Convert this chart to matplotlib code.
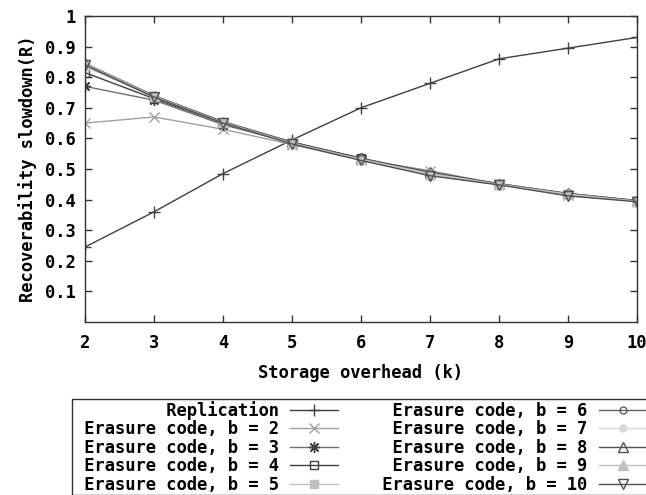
import matplotlib
matplotlib.use("Agg")
import matplotlib.pyplot as plt
from matplotlib.ticker import FixedLocator, FixedFormatter

FS = 12.3
plt.rcParams['font.family'] = ['DejaVu Sans Mono']
plt.rcParams['font.weight'] = 'bold'
plt.rcParams['font.size'] = FS

x = [2, 3, 4, 5, 6, 7, 8, 9, 10]
replication = [0.245, 0.36, 0.485, 0.595, 0.70, 0.78, 0.86, 0.895, 0.93]
b2 = [0.65, 0.67, 0.630, 0.580, 0.530, 0.495, 0.450, 0.415, 0.395]
b3 = [0.77, 0.725, 0.645, 0.585, 0.535, 0.480, 0.450, 0.415, 0.395]
b4 = [0.815, 0.73, 0.650, 0.585, 0.535, 0.480, 0.450, 0.418, 0.395]
b5 = [0.835, 0.735, 0.650, 0.585, 0.530, 0.480, 0.450, 0.418, 0.395]
b6 = [0.84, 0.738, 0.652, 0.588, 0.535, 0.485, 0.452, 0.420, 0.397]
b7 = [0.842, 0.74, 0.653, 0.585, 0.530, 0.483, 0.450, 0.418, 0.395]
b8 = [0.845, 0.74, 0.655, 0.588, 0.535, 0.490, 0.452, 0.420, 0.397]
b9 = [0.843, 0.738, 0.652, 0.585, 0.532, 0.485, 0.450, 0.418, 0.395]
b10 = [0.84, 0.735, 0.650, 0.582, 0.528, 0.478, 0.448, 0.412, 0.393]

labels = ["Replication", "Erasure code, b = 2", "Erasure code, b = 3",
          "Erasure code, b = 4", "Erasure code, b = 5", "Erasure code, b = 6",
          "Erasure code, b = 7", "Erasure code, b = 8", "Erasure code, b = 9",
          "Erasure code, b = 10"]
series = [replication, b2, b3, b4, b5, b6, b7, b8, b9, b10]

yticks = [0.1, 0.2, 0.3, 0.4, 0.5, 0.6, 0.7, 0.8, 0.9, 1.0]
yticklabels = ["0.1", "0.2", "0.3", "0.4", "0.5", "0.6", "0.7", "0.8", "0.9", "1"]
xticks = x
xticklabels = [str(v) for v in x]

styles = [
    dict(color='#404040', marker='+', ms=9, mfc='#404040'),
    dict(color='#a0a0a0', marker='x', ms=7, mfc='#a0a0a0'),
    dict(color='#707070', marker=(8, 2, 0), ms=8, mfc='#404040', mec='#404040'),
    dict(color='#404040', marker='s', ms=6, mfc='none'),
    dict(color='#c0c0c0', marker='s', ms=6, mfc='#c0c0c0'),
    dict(color='#606060', marker='o', ms=5, mfc='none'),
    dict(color='#d8d8d8', marker='o', ms=5, mfc='#d8d8d8'),
    dict(color='#505050', marker='^', ms=7, mfc='none'),
    dict(color='#c0c0c0', marker='^', ms=7, mfc='#c0c0c0'),
    dict(color='#505050', marker='v', ms=7, mfc='none'),
]

fig = plt.figure(figsize=(6.46, 4.95), dpi=100)
ax = fig.add_axes([85/646, 1-322/495, (637-85)/646, (322-16)/495])

handles = []
for lab, ys, st in zip(labels, series, styles):
    h, = ax.plot(x, ys, lw=1.0, mew=1.0, label=lab, **st)
    handles.append(h)

ax.set_xlim(2, 10)
ax.set_ylim(0, 1)
ax.xaxis.set_major_locator(FixedLocator(xticks))
ax.xaxis.set_major_formatter(FixedFormatter(xticklabels))
ax.yaxis.set_major_locator(FixedLocator(yticks))
ax.yaxis.set_major_formatter(FixedFormatter(yticklabels))
ax.tick_params(direction='in', length=5, width=1, color='#333333',
               top=True, right=True, labelsize=FS, pad=6.5)
ax.tick_params(axis='x', pad=8.5)
for s in ax.spines.values():
    s.set_color('#333333')
    s.set_linewidth(1.0)

ax.set_xlabel("Storage overhead (k)", fontsize=FS, fontweight='bold', labelpad=9)
ax.set_ylabel("Recoverability slowdown(R)", fontsize=FS, fontweight='bold', labelpad=6)

# pad labels so monospace text is right-justified within each column
left_w = max(len(l) for l in labels[:5])
right_w = max(len(l) for l in labels[5:])
padded = ([" " + l.rjust(left_w) for l in labels[:5]] +
          [" " + l.rjust(right_w) for l in labels[5:]])

leg = fig.legend(handles, padded, ncol=2, loc='upper left',
                 bbox_to_anchor=(72/646, 1-399/495), bbox_transform=fig.transFigure,
                 markerfirst=False, fancybox=False, framealpha=1,
                 edgecolor='#333333', fontsize=FS, labelspacing=0.03,
                 handlelength=2.81, handletextpad=0.64, columnspacing=2.03,
                 borderpad=0.1, borderaxespad=0)
leg.get_frame().set_linewidth(1.0)

fig.savefig("out.png", dpi=100)
